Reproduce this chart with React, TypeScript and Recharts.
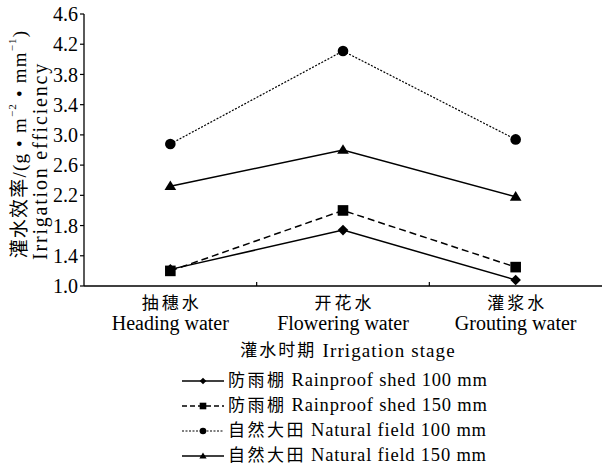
import React from "react";
import { LineChart, Line, XAxis, YAxis, Legend, Label } from "recharts";

const stagesCn = ["抽穗水", "开花水", "灌浆水"];
const stagesEn = ["Heading water", "Flowering water", "Grouting water"];

const shed100 = [1.22, 1.74, 1.08];
const shed150 = [1.2, 2.0, 1.25];
const field100 = [2.88, 4.11, 2.94];
const field150 = [2.32, 2.8, 2.18];

const yTicks = [1.0, 1.4, 1.8, 2.2, 2.6, 3.0, 3.4, 3.8, 4.2, 4.6];

const seriesCn = ["防雨棚", "防雨棚", "自然大田", "自然大田"];
const seriesEn = [
  "Rainproof shed 100 mm",
  "Rainproof shed 150 mm",
  "Natural field 100 mm",
  "Natural field 150 mm",
];

const FONT = "'Liberation Serif', 'Times New Roman', 'Noto Sans CJK SC', serif";

const data = stagesCn.map((stage, i) => ({
  stage,
  shed100: shed100[i],
  shed150: shed150[i],
  field100: field100[i],
  field150: field150[i],
}));

// line look for each series, same order as the names
const series = [
  { key: "shed100", marker: "diamond", dash: undefined, legendDash: undefined, width: 1.5 },
  { key: "shed150", marker: "square", dash: "7 4", legendDash: "5 3", width: 1.5 },
  { key: "field100", marker: "circle", dash: "2 1.5", legendDash: "2 1.5", width: 1.2 },
  { key: "field150", marker: "triangle", dash: undefined, legendDash: undefined, width: 1.5 },
];

function marker(kind: string, cx: number, cy: number, s: number, key?: string | number) {
  if (kind === "diamond")
    return <polygon key={key} points={`${cx},${cy - s} ${cx + s},${cy} ${cx},${cy + s} ${cx - s},${cy}`} fill="#000" />;
  if (kind === "square")
    return <rect key={key} x={cx - s} y={cy - s} width={2 * s} height={2 * s} fill="#000" />;
  if (kind === "circle") return <circle key={key} cx={cx} cy={cy} r={s} fill="#000" />;
  const h = s * 1.8;
  return (
    <polygon
      key={key}
      points={`${cx},${cy - h * 0.6} ${cx + s * 1.1},${cy + h * 0.4} ${cx - s * 1.1},${cy + h * 0.4}`}
      fill="#000"
    />
  );
}

const dotFor = (kind: string) => (props: any) => marker(kind, props.cx, props.cy, 5.3, props.index);

const StageTick = (props: any) => {
  const { x, y, payload, index } = props;
  const half = payload?.offset || 86;
  return (
    <g>
      <text
        x={x + 1.5}
        y={y + 17}
        textAnchor="middle"
        dominantBaseline="central"
        fontSize={17}
        letterSpacing={3}
        fontFamily={FONT}
        fill="#000"
      >
        {stagesCn[index]}
      </text>
      <text x={x} y={y + 37} textAnchor="middle" dominantBaseline="central" fontSize={20} fontFamily={FONT} fill="#000">
        {stagesEn[index]}
      </text>
      {index < stagesCn.length - 1 && (
        <line x1={x + half} x2={x + half} y1={y} y2={y - 4} stroke="#000" strokeWidth={1.2} />
      )}
    </g>
  );
};

const YTitle = (props: any) => {
  const { x, y, height } = props.viewBox;
  const cy = y + height / 2;
  const a = { x: x + 19, y: cy - 6 };
  const b = { x: x + 40, y: cy + 11 };
  return (
    <g fontFamily={FONT} fill="#000">
      <text
        x={a.x}
        y={a.y}
        transform={`rotate(-90, ${a.x}, ${a.y})`}
        textAnchor="middle"
        dominantBaseline="central"
        fontSize={19}
        letterSpacing={1.2}
      >
        <tspan fontSize={19}>灌水效率</tspan>/(g • m<tspan fontSize={11} dy={-7}>−2</tspan>
        <tspan dy={7}> • mm</tspan>
        <tspan fontSize={11} dy={-7}>−1</tspan>
        <tspan dy={7}>)</tspan>
      </text>
      <text
        x={b.x}
        y={b.y}
        transform={`rotate(-90, ${b.x}, ${b.y})`}
        textAnchor="middle"
        dominantBaseline="central"
        fontSize={20}
        letterSpacing={1.8}
      >
        Irrigation efficiency
      </text>
    </g>
  );
};

const XTitle = (props: any) => {
  const { x, y, width } = props.viewBox;
  return (
    <text
      x={x + width / 2 + 5}
      y={y + 64}
      textAnchor="middle"
      dominantBaseline="central"
      fontFamily={FONT}
      fill="#000"
    >
      <tspan fontSize={17} letterSpacing={2}>灌水时期 </tspan>
      <tspan fontSize={19} letterSpacing={1.1}>Irrigation stage</tspan>
    </text>
  );
};

const renderLegend = () => (
  <div style={{ paddingTop: 6, paddingLeft: 182, fontFamily: FONT }}>
    {series.map((s, i) => (
      <div key={s.key} style={{ display: "flex", alignItems: "center", height: 25 }}>
        <svg width={42} height={14} style={{ display: "block" }}>
          <line x1={0} x2={42} y1={7} y2={7} stroke="#000" strokeWidth={s.width} strokeDasharray={s.legendDash} />
          {marker(s.marker, 21, 7, 3.3)}
        </svg>
        <span style={{ marginLeft: 4, color: "#000", whiteSpace: "nowrap", lineHeight: "25px" }}>
          <span style={{ fontSize: 17, letterSpacing: 2.5 }}>{seriesCn[i]}</span>
          <span style={{ fontSize: 18.5, letterSpacing: 0.8, marginLeft: 5 }}>{seriesEn[i]}</span>
        </span>
      </div>
    ))}
  </div>
);

export default function App() {
  return (
    <div style={{ position: "absolute", left: 0, top: 0, background: "#fff" }}>
      <LineChart width={602} height={465} data={data} margin={{ top: 14, right: 0, left: 0, bottom: 0 }}>
        <XAxis
          dataKey="stage"
          scale="band"
          height={76}
          tickSize={0}
          tickMargin={0}
          tickLine={false}
          interval={0}
          tick={<StageTick />}
          axisLine={{ stroke: "#000", strokeWidth: 1.3 }}
        >
          <Label content={<XTitle />} />
        </XAxis>
        <YAxis
          width={84}
          domain={[1, 4.6]}
          ticks={yTicks}
          interval={0}
          tickSize={4}
          tickMargin={2}
          tickFormatter={(v: number) => v.toFixed(1)}
          tick={{ fill: "#000", fontSize: 20, fontFamily: FONT }}
          tickLine={{ stroke: "#000", strokeWidth: 1.2 }}
          axisLine={{ stroke: "#000", strokeWidth: 1.3 }}
        >
          <Label content={<YTitle />} />
        </YAxis>
        <Legend
          verticalAlign="bottom"
          align="left"
          content={renderLegend}
          wrapperStyle={{ width: 602, height: 103, left: 0 }}
        />
        {series.map((s, i) => (
          <Line
            key={s.key}
            dataKey={s.key}
            name={`${seriesCn[i]} ${seriesEn[i]}`}
            type="linear"
            stroke="#000"
            strokeWidth={s.width}
            strokeDasharray={s.dash}
            dot={dotFor(s.marker)}
            activeDot={false}
            isAnimationActive={false}
          />
        ))}
      </LineChart>
    </div>
  );
}
